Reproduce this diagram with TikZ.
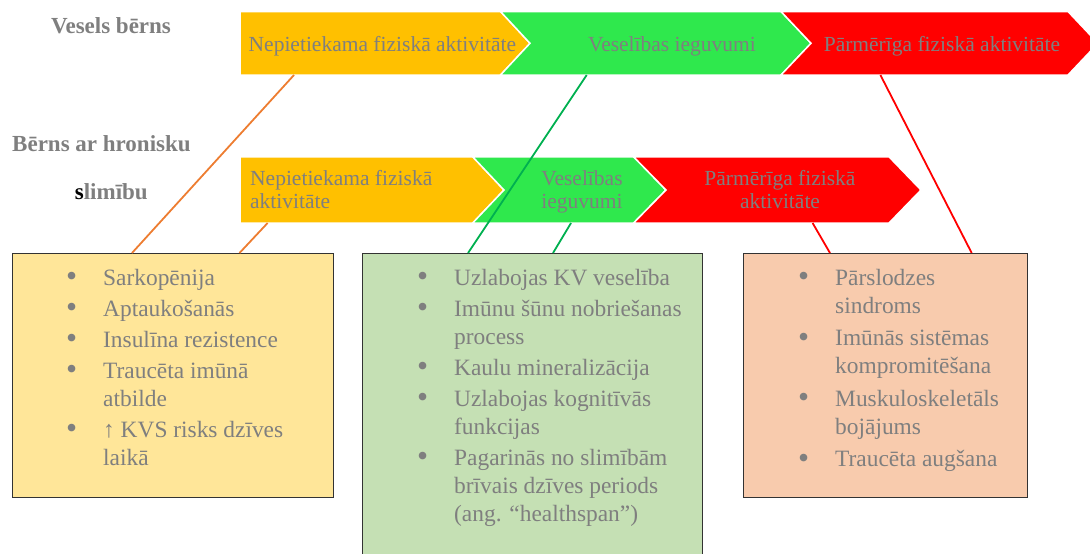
\documentclass[tikz,border=0pt]{standalone}
\usepackage{fontspec}
\setmainfont{Liberation Serif}
\definecolor{txtgrey}{HTML}{7F7F7F}
\definecolor{cyel}{HTML}{FFC000}
\definecolor{cgrn}{HTML}{2FE84D}
\definecolor{cred}{HTML}{FF0000}
\definecolor{byel}{HTML}{FFE699}
\definecolor{bgrn}{HTML}{C5E0B4}
\definecolor{bora}{HTML}{F8CBAD}
\definecolor{lora}{HTML}{ED7D31}
\definecolor{lgrn}{HTML}{00B050}
\definecolor{bordc}{HTML}{333333}
\newcommand{\bul}{\makebox[37pt][l]{\raisebox{-1.5pt}{\scalebox{1.35}{•}}}}
\newcommand{\ind}{\hspace*{37pt}}
\tikzset{
  chev/.style={draw=white, line width=1.5pt, line join=miter},
  chevtext/.style={text=txtgrey, font=\fontsize{21.5}{23}\selectfont, inner sep=0},
  lbl/.style={text=txtgrey, font=\bfseries\fontsize{23}{26}\selectfont, inner sep=0},
  infobox/.style={draw=bordc, line width=1.3pt, inner sep=0, anchor=north west},
  listtext/.style={text=txtgrey, inner sep=0, anchor=base west, font=\fontsize{23.4}{28}\selectfont},
  conn/.style={line width=1.8pt}
}
\begin{document}
\begin{tikzpicture}[x=1pt,y=-1pt]
\useasboundingbox (0,0) rectangle (1090,554);
\begin{scope}
\clip (0,0) rectangle (1090,554);
% top row chevrons
\path[chev, fill=cyel] (240,11.5) -- (500.5,11.5) -- (530,43.3) -- (500.5,75) -- (240,75) -- cycle;
\path[chev, fill=cgrn] (500.5,11.5) -- (781,11.5) -- (811,43.3) -- (781,75) -- (500.5,75) -- (530,43.3) -- cycle;
\path[chev, fill=cred] (781,11.5) -- (1068,11.5) -- (1098,43.3) -- (1068,75) -- (781,75) -- (811,43.3) -- cycle;
% second row chevrons
\path[chev, fill=cyel] (240,156.8) -- (472.7,156.8) -- (504,190) -- (472.7,223) -- (240,223) -- cycle;
\path[chev, fill=cgrn] (472.7,156.8) -- (633.6,156.8) -- (666,190) -- (633.6,223) -- (472.7,223) -- (504,190) -- cycle;
\path[chev, fill=cred] (633.6,156.8) -- (889,156.8) -- (921,190) -- (889,223) -- (633.6,223) -- (666,190) -- cycle;
% boxes
\node[infobox, fill=byel, minimum width=321.3pt, minimum height=244.3pt] (ybox) at (11.7,252.7) {};
\node[infobox, fill=bgrn, minimum width=340pt, minimum height=320pt] (gbox) at (361.7,253) {};
\node[infobox, fill=bora, minimum width=283.7pt, minimum height=244pt] (obox) at (743,253) {};
\end{scope}
% chevron texts
\node[chevtext, anchor=base west] (t1) at (248.5,51) {Nepietiekama fiziskā aktivitāte};
\node[chevtext, anchor=base] (t2) at (672,51) {Veselības ieguvumi};
\node[chevtext, anchor=base] (t3) at (942,51) {Pārmērīga fiziskā aktivitāte};
\node[chevtext, anchor=base west] (t4) at (250,185.6) {\parbox[t]{220pt}{\fontsize{21.5}{22.5}\selectfont Nepietiekama fiziskā\\aktivitāte}};
\node[chevtext, anchor=base] (t5) at (582,185.6) {\parbox[t]{110pt}{\centering\fontsize{21.5}{22.5}\selectfont Veselības\\ieguvumi}};
\node[chevtext, anchor=base] (t6) at (780,185.6) {\parbox[t]{200pt}{\centering\fontsize{21.5}{22.5}\selectfont Pārmērīga fiziskā\\aktivitāte}};
% left labels
\node[lbl, anchor=base] (l1) at (111,33) {Vesels bērns};
\node[lbl, anchor=base west] (l2) at (12,151.5) {Bērns ar hronisku};
\node[lbl, anchor=base west] (l3) at (74.7,199.5) {\textcolor{black}{s}limību};
% connector end points
\coordinate (c1a) at (294,75);   \coordinate (c1b) at (132,253);
\coordinate (c2a) at (267.6,223); \coordinate (c2b) at (239.5,253);
\coordinate (c3a) at (586.7,75);  \coordinate (c3b) at (468,253);
\coordinate (c4a) at (571,223);   \coordinate (c4b) at (553,253);
\coordinate (c5a) at (880.4,75);  \coordinate (c5b) at (971.7,253);
\coordinate (c6a) at (812.6,223); \coordinate (c6b) at (830,253);
\draw[conn, lora] (c1a) -- (c1b);
\draw[conn, lora] (c2a) -- (c2b);
\draw[conn, lgrn] (c3a) -- (c3b);
\draw[conn, lgrn] (c4a) -- (c4b);
\draw[conn, cred] (c5a) -- (c5b);
\draw[conn, cred] (c6a) -- (c6b);
% box texts
\node[listtext] (ytxt) at (66,285) {\parbox[t]{265pt}{\raggedright
\bul Sarkopēnija\\[3pt]
\bul Aptaukošanās\\[3pt]
\bul Insulīna rezistence\\[3pt]
\bul Traucēta imūnā\\
\ind atbilde\\[3pt]
\bul ↑ KVS risks dzīves\\
\ind laikā}};
\node[listtext] (gtxt) at (417,285) {\parbox[t]{280pt}{\raggedright
\bul Uzlabojas KV veselība\\[3pt]
\bul Imūnu šūnu nobriešanas\\
\ind process\\[3pt]
\bul Kaulu mineralizācija\\[3pt]
\bul Uzlabojas kognitīvās\\
\ind funkcijas\\[3pt]
\bul Pagarinās no slimībām\\
\ind brīvais dzīves periods\\
\ind (ang. “healthspan”)}};
\node[listtext] (otxt) at (798,285) {\parbox[t]{228pt}{\raggedright
\bul Pārslodzes\\
\ind sindroms\\[4.5pt]
\bul Imūnās sistēmas\\
\ind kompromitēšana\\[4.5pt]
\bul Muskuloskeletāls\\
\ind bojājums\\[4.5pt]
\bul Traucēta augšana}};
\end{tikzpicture}
\end{document}
